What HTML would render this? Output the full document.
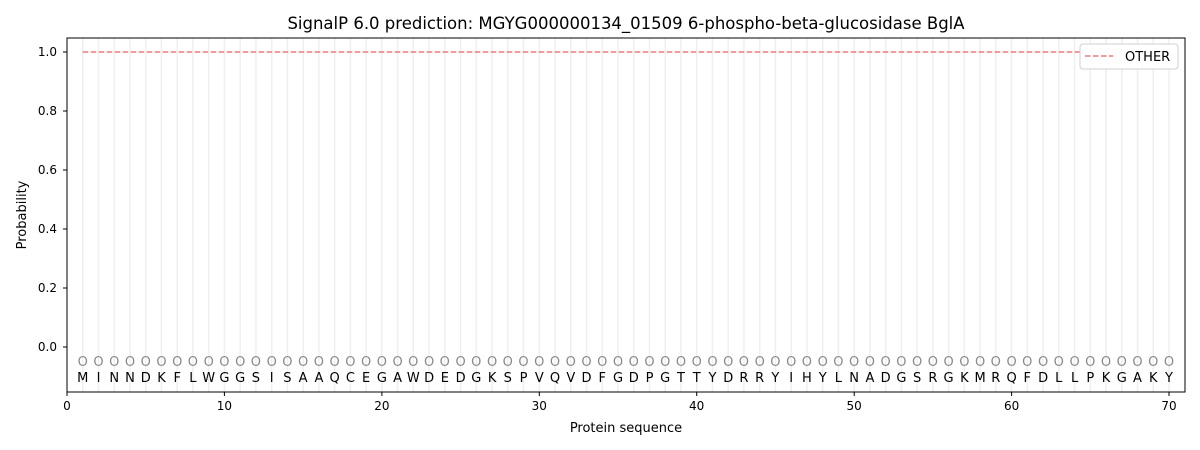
<!DOCTYPE html><html><head><style>body{margin:0;background:#fff}svg{display:block;font-family:"DejaVu Sans","Liberation Sans",sans-serif}</style></head><body>
<svg width="1200" height="450" xmlns="http://www.w3.org/2000/svg">
<rect width="1200" height="450" fill="#fff"/>
<g transform="translate(67,0) scale(15.743,1)"><path d="M1 38V392M2 38V392M3 38V392M4 38V392M5 38V392M6 38V392M7 38V392M8 38V392M9 38V392M10 38V392M11 38V392M12 38V392M13 38V392M14 38V392M15 38V392M16 38V392M17 38V392M18 38V392M19 38V392M20 38V392M21 38V392M22 38V392M23 38V392M24 38V392M25 38V392M26 38V392M27 38V392M28 38V392M29 38V392M30 38V392M31 38V392M32 38V392M33 38V392M34 38V392M35 38V392M36 38V392M37 38V392M38 38V392M39 38V392M40 38V392M41 38V392M42 38V392M43 38V392M44 38V392M45 38V392M46 38V392M47 38V392M48 38V392M49 38V392M50 38V392M51 38V392M52 38V392M53 38V392M54 38V392M55 38V392M56 38V392M57 38V392M58 38V392M59 38V392M60 38V392M61 38V392M62 38V392M63 38V392M64 38V392M65 38V392M66 38V392M67 38V392M68 38V392M69 38V392M70 38V392" stroke="#efefef" stroke-width="1.5" vector-effect="non-scaling-stroke"/></g>
<line x1="82.7" y1="52" x2="1169" y2="52" stroke="#f07878" stroke-width="1.5" stroke-dasharray="5.5,2.5"/>
<text y="366" font-size="13" fill="#8a8a8a" text-anchor="middle" x="82.7 98.5 114.2 130 145.7 161.5 177.2 192.9 208.7 224.4 240.2 255.9 271.7 287.4 303.1 318.9 334.6 350.4 366.1 381.9 397.6 413.3 429.1 444.8 460.6 476.3 492.1 507.8 523.5 539.3 555 570.8 586.5 602.3 618 633.7 649.5 665.2 681 696.7 712.5 728.2 743.9 759.7 775.4 791.2 806.9 822.7 838.4 854.1 869.9 885.6 901.4 917.1 932.9 948.6 964.4 980.1 995.8 1011.6 1027.3 1043.1 1058.8 1074.6 1090.3 1106 1121.8 1137.5 1153.3 1169">OOOOOOOOOOOOOOOOOOOOOOOOOOOOOOOOOOOOOOOOOOOOOOOOOOOOOOOOOOOOOOOOOOOOOO</text>
<text y="382" font-size="13" fill="#000" text-anchor="middle" x="82.7 98.5 114.2 130 145.7 161.5 177.2 192.9 208.7 224.4 240.2 255.9 271.7 287.4 303.1 318.9 334.6 350.4 366.1 381.9 397.6 413.3 429.1 444.8 460.6 476.3 492.1 507.8 523.5 539.3 555 570.8 586.5 602.3 618 633.7 649.5 665.2 681 696.7 712.5 728.2 743.9 759.7 775.4 791.2 806.9 822.7 838.4 854.1 869.9 885.6 901.4 917.1 932.9 948.6 964.4 980.1 995.8 1011.6 1027.3 1043.1 1058.8 1074.6 1090.3 1106 1121.8 1137.5 1153.3 1169">MINNDKFLWGGSISAAQCEGAWDEDGKSPVQVDFGDPGTTYDRRYIHYLNADGSRGKMRQFDLLPKGAKY</text>
<rect x="67" y="38" width="1118" height="354" fill="none" stroke="#000" stroke-width="1"/>
<g stroke="#000"><path d="M67 392v4M224.4 392v4M381.9 392v4M539.3 392v4M696.7 392v4M854.2 392v4M1011.6 392v4M1169 392v4M67 347h-4M67 288h-4M67 229h-4M67 170h-4M67 111h-4M67 52h-4"/></g>
<g font-size="12" text-anchor="middle"><text x="67" y="410">0</text><text x="224.4" y="410">10</text><text x="381.9" y="410">20</text><text x="539.3" y="410">30</text><text x="696.7" y="410">40</text><text x="854.2" y="410">50</text><text x="1011.6" y="410">60</text><text x="1169" y="410">70</text>
<text x="626" y="432" font-size="13">Protein sequence</text>
<text x="626" y="29" font-size="16.5">SignalP 6.0 prediction: MGYG000000134_01509 6-phospho-beta-glucosidase BglA</text></g>
<g font-size="12" text-anchor="end"><text x="57" y="351">0.0</text><text x="57" y="292">0.2</text><text x="57" y="233">0.4</text><text x="57" y="174">0.6</text><text x="57" y="115">0.8</text><text x="57" y="56">1.0</text></g>
<text transform="translate(26,215) rotate(-90)" font-size="13" text-anchor="middle">Probability</text>
<rect x="1080" y="44" width="98" height="25" rx="3" fill="#fff" stroke="#d0d0d0"/>
<line x1="1085" y1="56" x2="1113" y2="56" stroke="#f07878" stroke-width="1.5" stroke-dasharray="5.5,2.5"/>
<text x="1125" y="61" font-size="13">OTHER</text>
</svg></body></html>
